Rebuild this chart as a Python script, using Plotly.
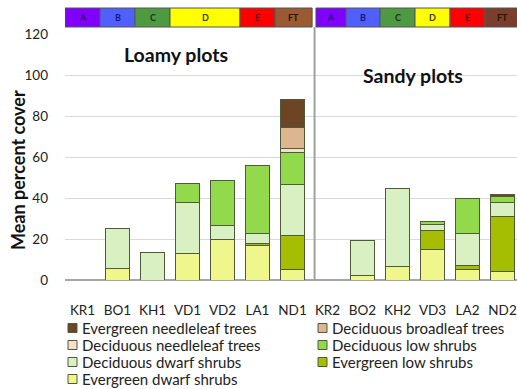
import plotly.graph_objects as go

# Sites: first seven on loamy soils, last six on sandy soils
sites = ["KR1", "BO1", "KH1", "VD1", "VD2", "LA1", "ND1",
         "KR2", "BO2", "KH2", "VD3", "LA2", "ND2"]

# Mean percent cover per plant functional type (stacked bottom to top)
evergreen_dwarf = [None, 5.5, None, 13.0, 19.7, 16.8, 5.0, None, 2.0, 6.4, 15.0, 5.0, 4.2]
evergreen_low = [None, None, None, None, None, 1.0, 16.7, None, None, None, 9.1, 2.2, 26.6]
deciduous_dwarf = [None, 19.5, 13.5, 24.6, 7.0, 4.7, 25.0, None, 17.5, 38.1, 3.1, 15.6, 6.8]
deciduous_low = [None, None, None, 9.7, 21.9, 33.2, 15.3, None, None, None, 1.3, 16.8, 3.1]
deciduous_needle = [None, None, None, None, None, None, 2.0, None, None, None, None, None, None]
deciduous_broad = [None, None, None, None, None, None, 10.3, None, None, None, None, None, None]
evergreen_needle = [None, None, None, None, None, None, 13.8, None, None, None, None, None, 1.1]

series = [
    ("Evergreen dwarf shrubs", evergreen_dwarf, "#EEF68C"),
    ("Evergreen low shrubs", evergreen_low, "#A6BE02"),
    ("Deciduous dwarf shrubs", deciduous_dwarf, "#D8F0C2"),
    ("Deciduous low shrubs", deciduous_low, "#92DA4C"),
    ("Deciduous needleleaf trees", deciduous_needle, "#F3DFCB"),
    ("Deciduous broadleaf trees", deciduous_broad, "#DDB58F"),
    ("Evergreen needleleaf trees", evergreen_needle, "#6B4524"),
]

# Vegetation zone bands across the top of each panel
zone_labels = ["A", "B", "C", "D", "E", "FT"]
zone_fill = ["#8000FF", "#5060FF", "#4E9A42", "#FFFF00", "#FF0000"]
zone_text = ["#3A0070", "#101A70", "#12361A", "#3A3A00", "#700000", "#2A1205"]
loamy_edges = [-0.5, 0.5, 1.5, 2.5, 4.5, 5.5, 6.56]
sandy_edges = [6.67, 7.53, 8.5, 9.5, 10.5, 11.5, 12.5]
ft_fill = {"loamy": "#9A5B32", "sandy": "#7A3F2C"}

FONT = "Lato"
W, H = 517, 389
ML, MR, MT, MB = 65, 0, 34, 109
PW, PH = W - ML - MR, H - MT - MB


def px_x(px):
    """Pixel column -> paper x."""
    return (px - ML) / PW


def px_y(py):
    """Pixel row (from top) -> paper y."""
    return (H - MB - py) / PH


fig = go.Figure()
for name, vals, col in series:
    fig.add_trace(go.Bar(
        x=sites, y=vals, name=name, showlegend=False,
        marker=dict(color=col, line=dict(color="#4F5A3A", width=1)),
        width=0.71,
    ))

shapes = []
annotations = []
y0b, y1b = px_y(27), px_y(8)
for key, edges in (("loamy", loamy_edges), ("sandy", sandy_edges)):
    for i, lab in enumerate(zone_labels):
        fill = zone_fill[i] if i < 5 else ft_fill[key]
        shapes.append(dict(type="rect", xref="x", yref="paper",
                           x0=edges[i], x1=edges[i + 1], y0=y0b, y1=y1b,
                           fillcolor=fill, line=dict(color="#555555", width=1),
                           layer="above"))
        annotations.append(dict(x=(edges[i] + edges[i + 1]) / 2, y=(y0b + y1b) / 2,
                                xref="x", yref="paper", text=f"<b>{lab}</b>",
                                xanchor="center", yanchor="middle", borderpad=0,
                                showarrow=False, font=dict(family=FONT, size=9, color=zone_text[i])))

# Divider between soil types
shapes.append(dict(type="line", xref="x", yref="paper", x0=6.63, x1=6.63,
                   y0=0, y1=y0b, line=dict(color="#A0A0A0", width=2)))

annotations += [
    dict(x=2.67, y=110, xref="x", yref="y", text="<b>Loamy plots</b>", showarrow=False,
         xanchor="center", yanchor="middle",
         font=dict(family=FONT, size=19.5, color="#111111")),
    dict(x=9.44, y=100, xref="x", yref="y", text="<b>Sandy plots</b>", showarrow=False,
         xanchor="center", yanchor="middle",
         font=dict(family=FONT, size=19.5, color="#111111")),
    dict(x=px_x(18), y=px_y(170), xref="paper", yref="paper", text="<b>Mean percent cover</b>",
         textangle=-90, showarrow=False, xanchor="center", yanchor="middle",
         font=dict(family=FONT, size=18, color="#111111")),
]

# Two-column key below the axis, read row by row
key_items = list(reversed(series))
col_x = [68, 318]
row_y = [328, 345, 362, 379]
for k, (name, _, col) in enumerate(key_items):
    cx, ry = col_x[k % 2], row_y[k // 2]
    shapes.append(dict(type="rect", xref="paper", yref="paper",
                       x0=px_x(cx), x1=px_x(cx + 9), y0=px_y(ry + 4.5), y1=px_y(ry - 4.5),
                       fillcolor=col, line=dict(color="#4F5A3A", width=1)))
    annotations.append(dict(x=px_x(cx + 13), y=px_y(ry), xref="paper", yref="paper",
                            text=name, showarrow=False, xanchor="left", yanchor="middle",
                            borderpad=0,
                            font=dict(family=FONT, size=15, color="#222222")))

fig.update_layout(
    width=W, height=H,
    margin=dict(l=ML, r=MR, t=MT, b=MB, autoexpand=False),
    barmode="stack",
    plot_bgcolor="white", paper_bgcolor="white",
    font=dict(family=FONT, size=14, color="#222222"),
    shapes=shapes, annotations=annotations,
    showlegend=False,
    xaxis=dict(range=[-0.5, 12.414], showgrid=False, showline=False,
               ticks="outside", ticklen=18, tickcolor="rgba(0,0,0,0)",
               tickfont=dict(family=FONT, size=13.5, color="#222222")),
    yaxis=dict(range=[0, 120], tickvals=[0, 20, 40, 60, 80, 100, 120],
               showgrid=True, gridcolor="#D9D9D9", gridwidth=1,
               zeroline=True, zerolinecolor="#A6A6A6", zerolinewidth=1.5,
               showline=False, ticklabelstandoff=16,
               tickfont=dict(family=FONT, size=13.5, color="#222222")),
)

fig.write_html("out.html")
